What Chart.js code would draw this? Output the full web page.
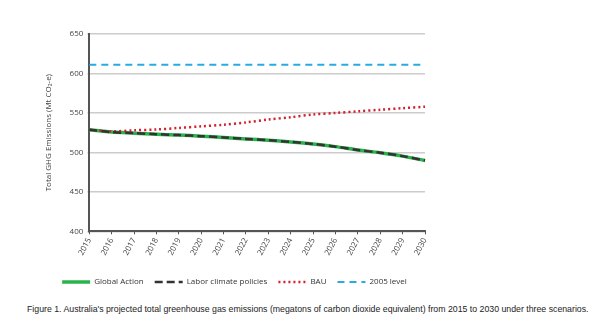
<!DOCTYPE html>
<html lang="en">
<head>
  <meta charset="UTF-8">
  <title>Australia GHG projections</title>
  <script src="https://cdn.jsdelivr.net/npm/chart.js"></script>
  <style>
    body {
      margin: 0;
      background: #ffffff;
      width: 600px;
      height: 324px;
      overflow: hidden;
      position: relative;
    }

    .chart-box {
      position: absolute;
      left: 0;
      top: 0;
      width: 600px;
      height: 296px;
    }

    .caption {
      position: absolute;
      left: 27px;
      top: 304px;
      font-family: 'Liberation Sans', Arial, sans-serif;
      font-size: 8.75px;
      color: #222;
      white-space: nowrap;
    }
  </style>
</head>
<body>

  <div class="chart-box">
    <canvas id="ghgChart"></canvas>
  </div>
  <div class="caption">Figure 1. Australia's projected total greenhouse gas emissions (megatons of carbon dioxide equivalent) from 2015 to 2030 under three scenarios.</div>

  <script>
    const years = ["2015", "2016", "2017", "2018", "2019", "2020", "2021", "2022",
                   "2023", "2024", "2025", "2026", "2027", "2028", "2029", "2030"];
    const globalAction = [528.7, 525.7, 524.4, 523.1, 521.9, 520.6, 518.9, 517.1,
                          515.4, 513.3, 510.7, 507.3, 503.0, 499.6, 495.3, 489.7];
    const laborPolicies = [528.7, 525.7, 524.4, 523.1, 521.9, 520.6, 518.9, 517.1,
                           515.4, 513.3, 510.7, 507.3, 503.0, 499.6, 495.3, 489.7];
    const bau = [528.7, 526.6, 528.0, 529.0, 531.0, 533.0, 535.0, 538.0,
                 541.6, 544.6, 548.0, 550.0, 552.0, 554.0, 556.0, 557.9];
    const level2005 = [611, 611, 611, 611, 611, 611, 611, 611,
                       611, 611, 611, 611, 611, 611, 611, 611];
    const yTicks = [400, 450, 500, 550, 600, 650];

    const tickFont = { family: 'Open Sans', size: 8 };

    new Chart(document.getElementById('ghgChart'), {
      type: 'line',
      data: {
        labels: years,
        datasets: [
          {
            label: 'Global Action',
            data: globalAction,
            borderColor: '#2bb34b',
            backgroundColor: '#2bb34b',
            borderWidth: 3.5,
            pointRadius: 0,
            tension: 0.3,
            order: 3
          },
          {
            label: 'Labor climate policies',
            data: laborPolicies,
            borderColor: '#333333',
            backgroundColor: '#333333',
            borderWidth: 2.5,
            borderDash: [8, 4],
            pointRadius: 0,
            tension: 0.3,
            order: 1
          },
          {
            label: 'BAU',
            data: bau,
            borderColor: '#d2202f',
            backgroundColor: '#d2202f',
            borderWidth: 2.5,
            borderDash: [2, 3],
            pointRadius: 0,
            tension: 0.3,
            order: 2
          },
          {
            label: '2005 level',
            data: level2005,
            borderColor: '#2aaae2',
            backgroundColor: '#2aaae2',
            borderWidth: 2,
            borderDash: [7, 5],
            pointRadius: 0,
            order: 4
          }
        ]
      },
      options: {
        responsive: true,
        maintainAspectRatio: false,
        animation: false,
        layout: {
          padding: { left: 44, right: 175, top: 34, bottom: 0 }
        },
        plugins: {
          tooltip: { enabled: false },
          legend: {
            position: 'bottom',
            labels: {
              color: '#333',
              font: { family: 'Open Sans', size: 8 },
              usePointStyle: true,
              pointStyle: 'line',
              pointStyleWidth: 28,
              boxWidth: 28,
              boxHeight: 8,
              padding: 11,
              sort: (a, b) => a.datasetIndex - b.datasetIndex,
              generateLabels: (chart) => {
                const items = Chart.defaults.plugins.legend.labels.generateLabels(chart);
                return items.map(item => {
                  const ds = chart.data.datasets[item.datasetIndex];
                  item.lineDash = ds.borderDash || [];
                  item.lineWidth = ds.borderWidth;
                  item.strokeStyle = ds.borderColor;
                  return item;
                });
              }
            }
          }
        },
        scales: {
          y: {
            min: 400,
            max: 650,
            afterBuildTicks: (axis) => {
              axis.ticks = yTicks.map(v => ({ value: v }));
            },
            ticks: { color: '#444', font: tickFont, padding: 4 },
            grid: { color: '#cccccc', lineWidth: 1.5, tickLength: 2 },
            border: { color: '#555555', width: 2 },
            title: {
              display: true,
              text: 'Total GHG Emissions (Mt CO\u2082-e)',
              color: '#444',
              font: { family: 'Open Sans', size: 8 },
              padding: { top: 0, bottom: 12 }
            }
          },
          x: {
            offset: false,
            ticks: {
              color: '#444',
              font: tickFont,
              minRotation: 62,
              maxRotation: 62,
              autoSkip: false,
              padding: 2
            },
            grid: { display: true, drawOnChartArea: false, color: '#555', tickLength: 3 },
            border: { color: '#555555', width: 2 },
            afterFit: (axis) => { axis.height += 8; }
          }
        }
      }
    });
  </script>

</body>
</html>
